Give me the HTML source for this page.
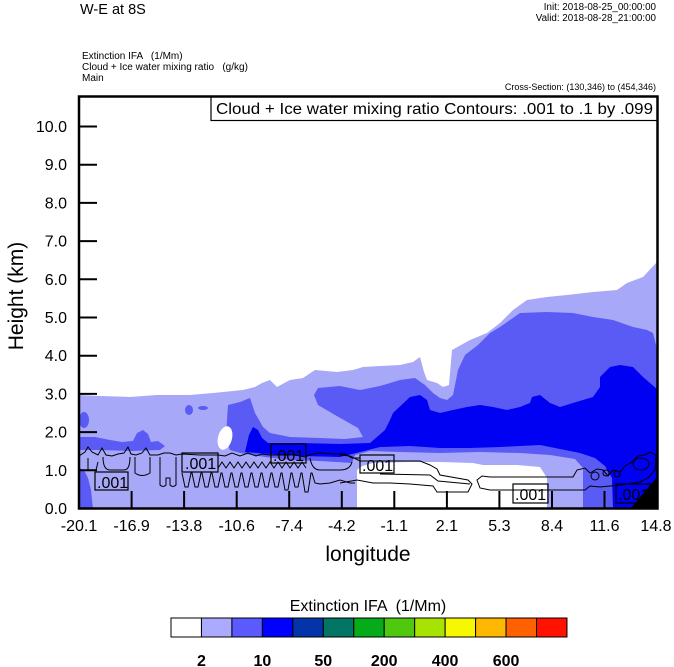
<!DOCTYPE html>
<html><head><meta charset="utf-8"><style>html,body{margin:0;padding:0;background:#fff}svg{display:block}</style></head>
<body>
<svg width="674" height="667" viewBox="0 0 674 667" xmlns="http://www.w3.org/2000/svg" font-family="'Liberation Sans', Arial, sans-serif">
<rect width="674" height="667" fill="#fff"/>
<defs><clipPath id="pc"><rect x="79" y="96" width="579" height="413"/></clipPath></defs>

<!-- header -->
<text x="80" y="14" font-size="14.5">W-E at 8S</text>
<text x="656" y="10" font-size="9.8" text-anchor="end">Init: 2018-08-25_00:00:00</text>
<text x="656" y="21" font-size="9.8" text-anchor="end">Valid: 2018-08-28_21:00:00</text>
<text x="82" y="59" font-size="10" xml:space="preserve">Extinction IFA   (1/Mm)</text>
<text x="82" y="70" font-size="10" xml:space="preserve">Cloud + Ice water mixing ratio   (g/kg)</text>
<text x="82" y="81" font-size="10">Main</text>
<text x="656" y="90" font-size="9" text-anchor="end">Cross-Section: (130,346) to (454,346)</text>

<!-- filled contours -->
<g clip-path="url(#pc)">
<polygon fill="#a8a8f8" points="79,395 100,396 130,397 157,395 190,395 213,393 243,390 255,387 262,383 270,380 277,387 290,380 303,378 315,370 337,372 353,370 363,367 380,366 400,365 413,362 420,357 424,372 427,380 437,383 443,387 449,385 452,350 470,340 487,333 500,323 513,310 527,300 547,297 567,295 593,292 617,290 627,283 643,277 657,262 658,262 658,509 79,509"/>
<polygon fill="#5a5af5" points="79,437 95,437 110,440 122,442 133,441 137,433 143,430 148,434 151,442 158,441 165,446 160,450 130,451 100,450 79,450"/>
<polygon fill="#5a5af5" points="230,450 226,440 227,420 228,405 240,402 250,398 255,413 263,427 270,433 290,437 320,438 345,439 363,437 358,428 335,415 318,405 314,395 318,388 340,386 360,390 380,386 400,380 415,378 425,385 433,393 440,398 447,400 453,395 458,370 465,355 478,345 490,333 500,327 510,320 520,313 547,312 573,313 593,317 613,320 633,327 647,330 653,333 656,345 658,358 658,509 583,509 583,468 575,459 550,455 520,453 480,452 440,453 400,452 370,451 355,455 352,463 320,461 290,460 265,457 240,453"/>
<ellipse cx="189" cy="410" rx="4" ry="5" fill="#5a5af5"/>
<ellipse cx="203" cy="408" rx="5" ry="2" fill="#5a5af5"/>
<ellipse cx="84" cy="420" rx="5" ry="8" fill="#5a5af5"/>
<polygon fill="#5a5af5" points="79,468 84,470 88,478 91,490 93,509 79,509"/>
<polygon fill="#0000f2" points="245,452 249,435 253,427 258,430 262,438 268,443 300,443 340,444 370,443 385,430 390,420 393,413 410,397 420,395 427,400 430,410 440,413 453,410 467,407 480,405 493,407 507,410 520,407 530,403 532,397 540,395 550,403 560,407 573,403 593,397 600,387 600,377 610,367 620,365 633,367 643,377 650,383 658,390 658,477 630,509 613,509 612,478 605,466 595,458 580,453 560,449 540,445 500,447 470,448 440,448 410,446 380,447 360,452 340,457 300,456 270,454"/>
<polygon fill="#fff" points="357,509 357,470 362,466 373,463 407,462 440,462 473,463 483,465 517,465 540,467 547,478 547,509"/>
<ellipse cx="225" cy="438" rx="7" ry="12" transform="rotate(15 225 438)" fill="#fff"/>

<!-- line contours -->
<g fill="none" stroke="#000" stroke-width="1">
<polyline points="79,456 85,452 88,447 92,452 98,455 102,448 106,455 112,456 118,454 124,453 128,447 131,454 136,455 142,453 146,448 150,455 158,455 164,453 170,453 176,455 182,454 200,455 218,455 225,456 232,453 240,456 248,453 256,456 262,454 270,455 285,455 295,455 305,457 312,454 320,453 335,454 345,454 352,458 360,458"/>
<path d="M103,457 Q103,470 110,470 L124,470 Q130,470 130,457"/>
<path d="M135,457 L135,473 Q142,478 150,473 L150,457"/>
<path d="M160,457 L160,485 Q163,488 166,485 L166,478 L170,478 L170,485 Q173,488 176,485 L176,457"/>
<path d="M88,458 L88,470 L96,470 L98,462"/>
<polyline points="182,473 185,487 188,487 191,473 192,473 195,487 198,487 201,473 202,473 205,487 208,487 211,473 212,473 215,487 218,487 221,473 222,473 225,487 228,487 231,473 232,473 235,487 238,487 241,473 242,473 245,487 248,487 251,473 252,473 255,487 258,487 261,473 262,473 265,487 268,487 271,473 272,473 275,487 278,487 281,473 282,473 285,490 288,490 291,473 292,473 295,487 298,487 301,473 302,473 305,492 308,492 311,473 312,473 315,483 320,484 330,483 340,480 350,483 355,483"/>
<polyline points="218,468 222,462 226,468 230,462 234,468 238,462 242,468 246,462 250,468 254,462 258,468 262,462 266,468 270,462 274,468 278,462 282,468 286,462 290,468 294,462 298,468 302,462 306,468"/>
<path d="M310,458 Q312,470 320,470 L340,470 Q350,470 352,462"/>
<polyline points="340,455 350,456 360,461 393,461 420,461 430,465 437,469 440,475 468,480 472,484 468,492 437,492 433,486 410,484 390,483 373,483 357,480 340,483"/>
<polyline points="380,474 430,475 438,481 470,484"/>
<polygon points="477,480 482,476 490,477 573,477 577,470 585,468 590,473 597,469 603,470 608,476 613,470 620,472 625,466 632,462 638,456 645,455 650,452 656,455 655,470 648,478 640,482 620,485 600,487 590,486 585,490 490,490 480,488"/>
<circle cx="595" cy="476" r="4"/>
<circle cx="606" cy="473" r="3"/>
<circle cx="617" cy="474" r="3"/>
<ellipse cx="641" cy="464" rx="8" ry="6"/>
</g>

<!-- contour labels -->
<g fill="none" stroke="#000" stroke-width="1.2">
<rect x="95" y="472" width="33" height="18"/>
<rect x="182" y="453" width="36" height="19"/>
<rect x="271" y="444" width="35" height="19"/>
<rect x="360" y="455" width="34" height="18"/>
<rect x="513" y="484" width="35" height="19"/>
<rect x="616" y="484" width="34" height="19"/>
</g>
<g font-size="16" fill="#000">
<text x="97" y="488">.001</text>
<text x="185" y="469">.001</text>
<text x="273" y="461">.001</text>
<text x="362" y="471">.001</text>
<text x="515" y="500">.001</text>
<text x="618" y="500">.001</text>
</g>
<polygon fill="#000" points="630,509 658,509 658,476"/>
</g>

<!-- legend box -->
<rect x="211" y="96.5" width="446.5" height="24" fill="#fff" stroke="#000" stroke-width="1.2"/>
<text x="216" y="114" font-size="15.5" textLength="437" lengthAdjust="spacingAndGlyphs">Cloud + Ice water mixing ratio Contours: .001 to .1 by .099</text>

<!-- ticks -->
<g stroke="#000" stroke-width="2">
<line x1="79" y1="126.5" x2="97" y2="126.5"/>
<line x1="79" y1="164.7" x2="97" y2="164.7"/>
<line x1="79" y1="202.9" x2="97" y2="202.9"/>
<line x1="79" y1="241.1" x2="97" y2="241.1"/>
<line x1="79" y1="279.3" x2="97" y2="279.3"/>
<line x1="79" y1="317.5" x2="97" y2="317.5"/>
<line x1="79" y1="355.7" x2="97" y2="355.7"/>
<line x1="79" y1="393.9" x2="97" y2="393.9"/>
<line x1="79" y1="432.1" x2="97" y2="432.1"/>
<line x1="79" y1="470.3" x2="97" y2="470.3"/>
<line x1="131.6" y1="491" x2="131.6" y2="509"/>
<line x1="184.1" y1="491" x2="184.1" y2="509"/>
<line x1="236.7" y1="491" x2="236.7" y2="509"/>
<line x1="289.2" y1="491" x2="289.2" y2="509"/>
<line x1="341.8" y1="491" x2="341.8" y2="509"/>
<line x1="394.3" y1="491" x2="394.3" y2="509"/>
<line x1="446.9" y1="491" x2="446.9" y2="509"/>
<line x1="499.4" y1="491" x2="499.4" y2="509"/>
<line x1="552" y1="491" x2="552" y2="509"/>
<line x1="604.5" y1="491" x2="604.5" y2="509"/>
</g>
<!-- frame -->
<rect x="79" y="96.5" width="578.5" height="412" fill="none" stroke="#000" stroke-width="2.5"/>

<!-- y tick labels -->
<g font-size="16" text-anchor="end" fill="#000">
<text x="67" y="132">10.0</text>
<text x="67" y="170.2">9.0</text>
<text x="67" y="208.4">8.0</text>
<text x="67" y="246.6">7.0</text>
<text x="67" y="284.8">6.0</text>
<text x="67" y="323">5.0</text>
<text x="67" y="361.2">4.0</text>
<text x="67" y="399.4">3.0</text>
<text x="67" y="437.6">2.0</text>
<text x="67" y="475.8">1.0</text>
<text x="67" y="514">0.0</text>
</g>
<!-- x tick labels -->
<g font-size="16" text-anchor="middle" fill="#000">
<text x="79" y="531">-20.1</text>
<text x="131.6" y="531">-16.9</text>
<text x="184.1" y="531">-13.8</text>
<text x="236.7" y="531">-10.6</text>
<text x="289.2" y="531">-7.4</text>
<text x="341.8" y="531">-4.2</text>
<text x="394.3" y="531">-1.1</text>
<text x="446.9" y="531">2.1</text>
<text x="499.4" y="531">5.3</text>
<text x="552" y="531">8.4</text>
<text x="604.5" y="531">11.6</text>
<text x="656" y="531">14.8</text>
</g>
<text x="368" y="561" font-size="21" text-anchor="middle">longitude</text>
<text transform="translate(23,296) rotate(-90)" font-size="21" text-anchor="middle">Height (km)</text>

<!-- colorbar -->
<text x="368" y="611" font-size="16" text-anchor="middle" xml:space="preserve">Extinction IFA  (1/Mm)</text>
<g stroke="#000" stroke-width="1">
<rect x="171" y="618" width="30.46" height="19" fill="#ffffff"/>
<rect x="201.46" y="618" width="30.46" height="19" fill="#aaaaff"/>
<rect x="231.92" y="618" width="30.46" height="19" fill="#5a5aff"/>
<rect x="262.38" y="618" width="30.46" height="19" fill="#0000ff"/>
<rect x="292.84" y="618" width="30.46" height="19" fill="#0433aa"/>
<rect x="323.3" y="618" width="30.46" height="19" fill="#027565"/>
<rect x="353.76" y="618" width="30.46" height="19" fill="#06ab1a"/>
<rect x="384.22" y="618" width="30.46" height="19" fill="#50c80e"/>
<rect x="414.68" y="618" width="30.46" height="19" fill="#a8e203"/>
<rect x="445.14" y="618" width="30.46" height="19" fill="#f5f800"/>
<rect x="475.6" y="618" width="30.46" height="19" fill="#ffb800"/>
<rect x="506.06" y="618" width="30.46" height="19" fill="#ff6000"/>
<rect x="536.52" y="618" width="30.46" height="19" fill="#ff1200"/>
</g>
<g font-size="16" font-weight="bold" text-anchor="middle" fill="#000">
<text x="201.5" y="666">2</text>
<text x="262.4" y="666">10</text>
<text x="323.3" y="666">50</text>
<text x="384.2" y="666">200</text>
<text x="445.1" y="666">400</text>
<text x="506.1" y="666">600</text>
</g>
</svg>
</body></html>
